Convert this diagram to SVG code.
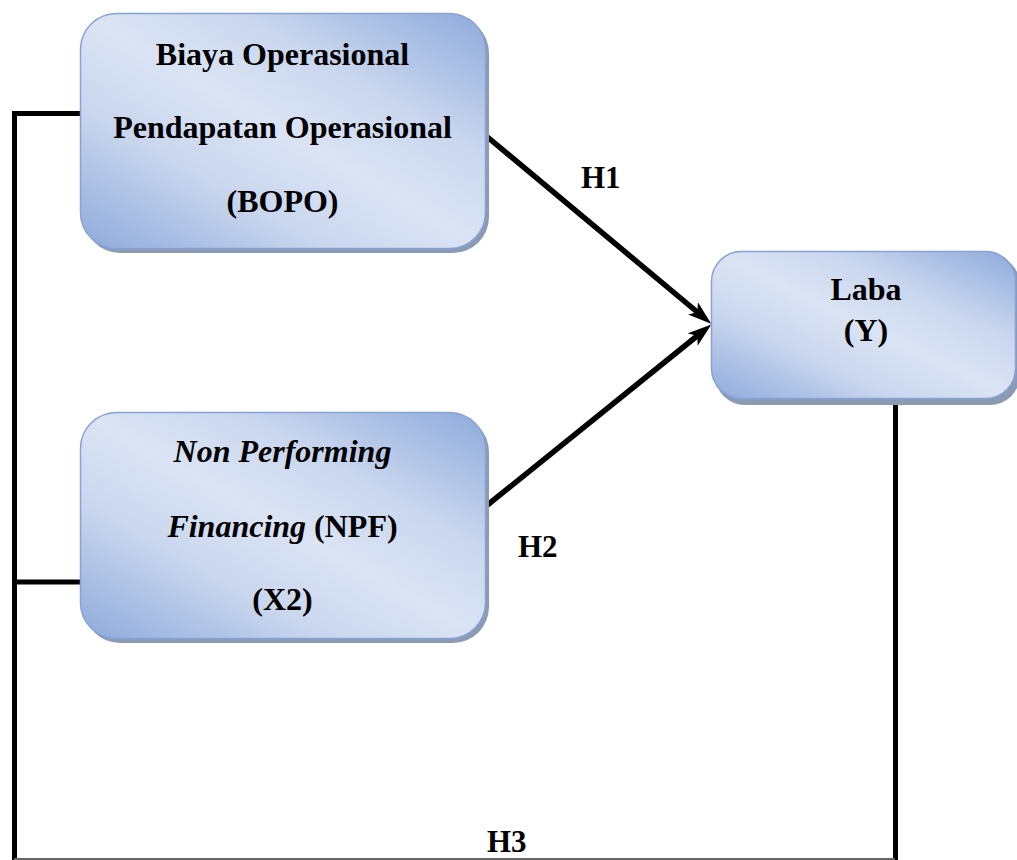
<svg xmlns="http://www.w3.org/2000/svg" width="1017" height="860" viewBox="0 0 1017 860">
<defs>
<linearGradient id="fill" x1="0" y1="1" x2="1" y2="0">
<stop offset="0" stop-color="#8eaadb"/>
<stop offset="0.3" stop-color="#c9d6ee"/>
<stop offset="0.5" stop-color="#dbe4f4"/>
<stop offset="0.7" stop-color="#c9d6ee"/>
<stop offset="1" stop-color="#8eaadb"/>
</linearGradient>
<marker id="arrow" markerUnits="userSpaceOnUse" markerWidth="24" markerHeight="16" refX="12" refY="8" orient="auto">
<path d="M0,0 L24,8 L0,16 L6,8 Z" fill="#000"/>
</marker>
</defs>
<style>
.box{fill:url(#fill);stroke:#86a3d7;stroke-width:1.5}
.shadow{fill:#8c9bb5}
.t{font-family:"Liberation Serif","Times New Roman",serif;font-weight:bold;font-size:32px;fill:#000;text-anchor:middle}
.lbl{font-family:"Liberation Serif","Times New Roman",serif;font-weight:bold;font-size:31px;fill:#000}
.it{font-style:italic}
.line{stroke:#000;stroke-width:5;fill:none}
.arr{stroke:#000;stroke-width:5.5;fill:none}
</style>
<g id="connectors">
<polyline class="line" points="81,113.5 14.5,113.5 14.5,860"/>
<line class="line" x1="14.5" y1="582" x2="81" y2="582"/>
<line class="line" x1="895.5" y1="399" x2="895.5" y2="860"/>
<line x1="14" y1="859" x2="895" y2="859" stroke="#666" stroke-width="2"/>
<line class="arr" x1="485" y1="135" x2="702" y2="316" marker-end="url(#arrow)"/>
<line class="arr" x1="485" y1="507" x2="702" y2="332" marker-end="url(#arrow)"/>
<text class="lbl" x="581" y="188">H1</text>
<text class="lbl" x="518" y="557">H2</text>
<text class="lbl" x="487" y="852">H3</text>
</g>
<g id="bopo">
<rect class="shadow" x="84" y="17" width="405" height="236" rx="36"/>
<rect class="box" x="80.5" y="13.5" width="405" height="235" rx="36"/>
<text class="t" x="282.5" y="65">Biaya Operasional</text>
<text class="t" x="282.5" y="138">Pendapatan Operasional</text>
<text class="t" x="282.5" y="212">(BOPO)</text>
</g>
<g id="npf">
<rect class="shadow" x="84" y="416" width="405" height="227" rx="36"/>
<rect class="box" x="80.5" y="412.5" width="405" height="226" rx="36"/>
<text class="t it" x="282.5" y="462">Non Performing</text>
<text class="t" x="282.5" y="537"><tspan class="it">Financing</tspan> (NPF)</text>
<text class="t" x="282.5" y="610">(X2)</text>
</g>
<g id="laba">
<rect class="shadow" x="715" y="255" width="305" height="150" rx="30"/>
<rect class="box" x="711.5" y="251.5" width="304" height="147" rx="30"/>
<text class="t" x="866" y="300">Laba</text>
<text class="t" x="866" y="341">(Y)</text>
</g>
</svg>
